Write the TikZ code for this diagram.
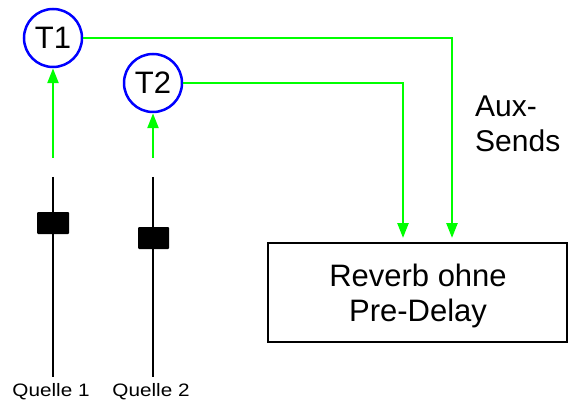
\documentclass[tikz,border=0pt]{standalone}
\usepackage{fontspec}
\setmainfont{Liberation Sans}
\newfontfamily\widerfont[FakeStretch=1.15]{Liberation Sans}
\usetikzlibrary{arrows.meta}
\definecolor{sgreen}{RGB}{0,255,0}
\definecolor{sblue}{RGB}{0,0,255}
\begin{document}
\begin{tikzpicture}[x=1pt,y=-1pt,
  tnode/.style={circle,draw=sblue,line width=2.5pt,minimum size=58pt,inner sep=0pt,font=\fontsize{31}{34}\selectfont},
  send/.style={draw=sgreen,line width=2.5pt},
  sendarrow/.style={send,-{Triangle[width=11pt,length=15pt]}},
  fader/.style={draw=black,line width=2.5pt},
  knob/.style={fill=black,rounded corners=1pt},
  lbl/.style={font=\widerfont\fontsize{18}{20}\selectfont,anchor=base,inner sep=0pt},
  box/.style={draw=black,line width=1.6pt,minimum width=299pt,minimum height=99pt},
  boxtext/.style={align=center,inner sep=0pt,font=\fontsize{31}{35}\selectfont},
  auxlbl/.style={align=left,inner sep=0pt,font=\fontsize{30}{35}\selectfont}]
\useasboundingbox (0,0) rectangle (577,403);
\node[tnode] (T1) at (53,38) {T1};
\node[tnode] (T2) at (153,83) {T2};
\node[box] (R) at (417.5,292.5) {};
\node[boxtext] (Rt) at (418,295.5) {Reverb ohne\\Pre-Delay};
\node[auxlbl,anchor=base west] (aux) at (475,152) {Aux-\\Sends};
% faders
\coordinate (f1t) at (53,177);
\coordinate (f1b) at (53,377);
\coordinate (f2t) at (153,177);
\coordinate (f2b) at (153,377);
\draw[fader] (f1t) -- (f1b);
\draw[fader] (f2t) -- (f2b);
\fill[knob] (37,212) rectangle (69,234);
\fill[knob] (138,227) rectangle (169,249);
\node[lbl] (q1) at (51,396) {Quelle 1};
\node[lbl] (q2) at (151,396) {Quelle 2};
% pre-sends to T
\coordinate (a1) at (53,158);
\coordinate (a2) at (153,158);
\draw[sendarrow] (a1) -- (T1.south);
\draw[sendarrow] (a2) -- (T2.south);
% aux sends
\draw[sendarrow] (T1.east) -- (452,38) -- (452,238);
\draw[sendarrow] (T2.east) -- (403,83) -- (403,238);
\end{tikzpicture}
\end{document}
